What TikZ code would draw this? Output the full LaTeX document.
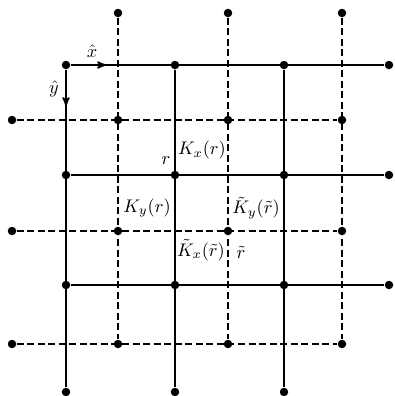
\documentclass[tikz,border=0pt]{standalone}
\usepackage{xcolor}
\usepackage{tikz}
\usetikzlibrary{arrows}

\begin{document}
\begin{tikzpicture}[x=0.025cm, y=-0.025cm,
    lab/.style={scale=1.3, inner sep=0pt},
    site/.style={circle, fill=black, inner sep=0pt, minimum size=8.5*0.025cm},
    solidline/.style={line width=1.2pt},
    dashline/.style={line width=1pt, dash pattern=on 5pt off 2.5pt}]
    \useasboundingbox (0,0) rectangle (395,396);

    % solid lattice
    \foreach \i/\x in {0/66, 1/175, 2/284} {
        \foreach \j/\y in {0/65, 1/175, 2/285} {
            \node[site] (s\i\j) at (\x,\y) {};
        }
        \node[site] (s\i3) at (\x,392) {};
    }
    \foreach \j/\y in {0/65, 1/175, 2/285} {
        \node[site] (s3\j) at (389,\y) {};
    }

    % dashed lattice
    \foreach \i/\x in {1/118, 2/228, 3/342} {
        \foreach \j/\y in {1/120, 2/231, 3/344} {
            \node[site] (d\i\j) at (\x,\y) {};
        }
        \node[site] (d\i0) at (\x,13) {};
    }
    \foreach \j/\y in {1/120, 2/231, 3/344} {
        \node[site] (d0\j) at (12,\y) {};
    }

    \foreach \k in {0,1,2} {
        \draw[solidline] (s0\k) -- (s3\k);
        \draw[solidline] (s\k0) -- (s\k3);
    }
    \foreach \k in {1,2,3} {
        \draw[dashline] (d0\k) -- (d3\k);
        \draw[dashline] (d\k0) -- (d\k3);
    }

    % unit vectors
    \coordinate (xend) at (106,65);
    \coordinate (yend) at (66,106);
    \draw[->, >=stealth', solidline] (s00) -- (xend);
    \draw[->, >=stealth', solidline] (s00) -- (yend);
    \node[lab] (xlab) at (92,51) {$\hat{x}$};
    \node[lab] (ylab) at (54,89) {$\hat{y}$};

    % labels
    \node[lab] (rlab) at (166,161) {$r$};
    \node[lab] (kxr) at (202,150) {$K_x(r)$};
    \node[lab] (kyr) at (147,208) {$K_y(r)$};
    \node[lab] (ktyr) at (256,208) {$\tilde{K}_y(\tilde{r})$};
    \node[lab] (ktxr) at (201,250) {$\tilde{K}_x(\tilde{r})$};
    \node[lab] (rtlab) at (241,252) {$\tilde{r}$};
\end{tikzpicture}
\end{document}
